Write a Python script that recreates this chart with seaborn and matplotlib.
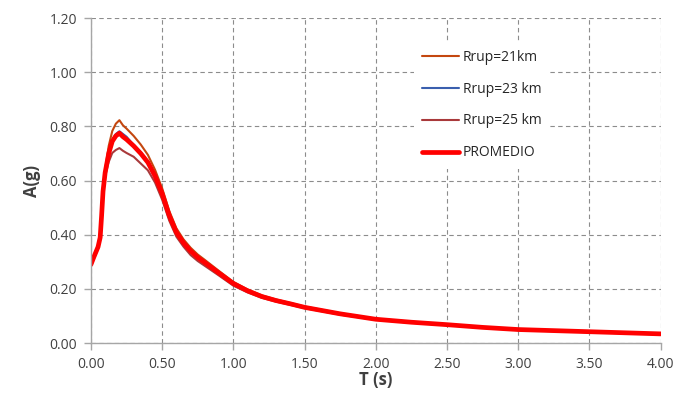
import pandas as pd
import matplotlib
matplotlib.use('Agg')
import matplotlib.pyplot as plt
import seaborn as sns

# periodos (s) y aceleraciones espectrales (g)
periodo = [0, 0.02, 0.05, 0.065, 0.075, 0.085, 0.1, 0.125, 0.15, 0.175, 0.2, 0.225, 0.25, 0.3,
           0.35, 0.4, 0.45, 0.5, 0.55, 0.6, 0.65, 0.7, 0.75, 0.8, 0.9, 1.0, 1.1, 1.2, 1.3, 1.4,
           1.5, 1.75, 2.0, 2.25, 2.5, 2.75, 3.0, 3.25, 3.5, 3.75, 4.0]

rrup21 = [0.295, 0.322, 0.360, 0.396, 0.478, 0.568, 0.642, 0.728, 0.783, 0.810, 0.823, 0.804,
          0.792, 0.765, 0.733, 0.695, 0.640, 0.572, 0.488, 0.424, 0.383, 0.352, 0.327, 0.307,
          0.266, 0.226, 0.198, 0.176, 0.161, 0.148, 0.135, 0.110, 0.090, 0.079, 0.069, 0.059,
          0.051, 0.047, 0.043, 0.039, 0.035]
rrup23 = [0.292, 0.320, 0.356, 0.391, 0.471, 0.561, 0.632, 0.703, 0.750, 0.772, 0.782, 0.772,
          0.762, 0.731, 0.704, 0.667, 0.617, 0.554, 0.473, 0.411, 0.371, 0.343, 0.318, 0.299,
          0.259, 0.222, 0.194, 0.173, 0.157, 0.146, 0.132, 0.109, 0.088, 0.077, 0.069, 0.059,
          0.051, 0.047, 0.043, 0.039, 0.035]
rrup25 = [0.283, 0.310, 0.349, 0.383, 0.461, 0.551, 0.616, 0.669, 0.702, 0.713, 0.720, 0.710,
          0.702, 0.688, 0.663, 0.638, 0.593, 0.530, 0.452, 0.393, 0.356, 0.325, 0.303, 0.285,
          0.249, 0.212, 0.187, 0.167, 0.153, 0.141, 0.129, 0.105, 0.086, 0.075, 0.066, 0.056,
          0.048, 0.044, 0.040, 0.036, 0.032]
promedio = [0.290, 0.317, 0.355, 0.390, 0.470, 0.560, 0.630, 0.700, 0.745, 0.765, 0.775, 0.762,
            0.752, 0.728, 0.700, 0.667, 0.617, 0.552, 0.471, 0.409, 0.370, 0.340, 0.316, 0.297,
            0.258, 0.220, 0.193, 0.172, 0.157, 0.145, 0.132, 0.108, 0.088, 0.077, 0.068, 0.058,
            0.050, 0.046, 0.042, 0.038, 0.034]

series = [
    ('Rrup=21km', rrup21, '#C4470F', 1.5),
    ('Rrup=23 km', rrup23, '#3A5FAE', 1.5),
    ('Rrup=25 km', rrup25, '#A9393B', 1.5),
    ('PROMEDIO', promedio, '#FF0000', 3.4),
]

sns.set_theme(style='white')
plt.rcParams['font.family'] = ['Open Sans', 'DejaVu Sans']

fig = plt.figure(figsize=(6.94, 3.93), dpi=100)
ax = fig.add_axes([0.131, 0.127, 0.821, 0.827])

for nombre, valores, color, lw in series:
    df = pd.DataFrame({'T': periodo, 'A': valores})
    sns.lineplot(data=df, x='T', y='A', ax=ax, color=color, linewidth=lw, label=nombre)

ax.set_xlim(0, 4)
ax.set_ylim(0, 1.2)
ax.set_xticks([i * 0.5 for i in range(9)])
ax.set_yticks([i * 0.2 for i in range(7)])
ax.xaxis.set_major_formatter(matplotlib.ticker.FormatStrFormatter('%.2f'))
ax.yaxis.set_major_formatter(matplotlib.ticker.FormatStrFormatter('%.2f'))

ax.grid(True, color='#8c8c8c', linestyle=(0, (4, 3)), linewidth=0.8)
for s in ['top', 'right']:
    ax.spines[s].set_visible(False)
for s in ['left', 'bottom']:
    ax.spines[s].set_color('#a6a6a6')
    ax.spines[s].set_linewidth(1.0)
ax.tick_params(axis='both', which='major', length=5, width=1.0, color='#a6a6a6',
               labelsize=10, labelcolor='#404040', direction='out', pad=5)
ax.tick_params(bottom=True, left=True)

ax.set_xlabel('T (s)', fontsize=12, fontweight='bold', color='#404040', labelpad=-1)
ax.set_ylabel('A(g)', fontsize=12, fontweight='bold', color='#404040', labelpad=6)

leg = ax.legend(loc='upper left', bbox_to_anchor=(0.555, 0.95), frameon=True,
                fontsize=10, labelspacing=1.22, handlelength=2.6, handletextpad=0.3,
                borderpad=0.6, fancybox=False)
leg.get_frame().set_facecolor('white')
leg.get_frame().set_edgecolor('none')
leg.get_frame().set_alpha(1)
for txt in leg.get_texts():
    txt.set_color('#262626')

fig.savefig('out.png', dpi=100)
